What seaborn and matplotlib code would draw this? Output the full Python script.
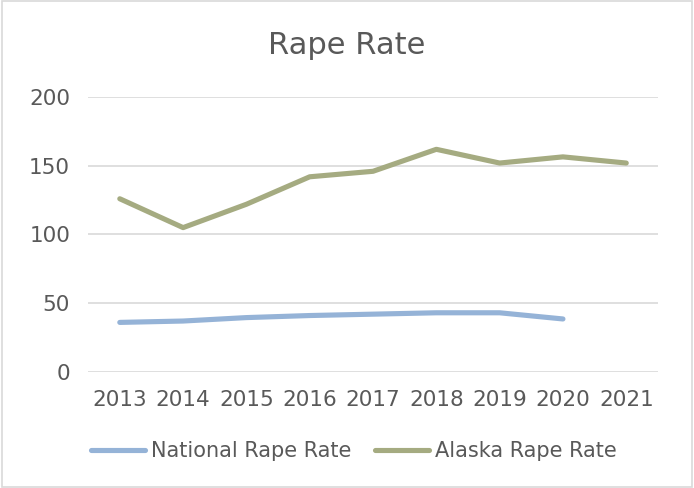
import numpy as np
import pandas as pd
import matplotlib
matplotlib.use("Agg")
import matplotlib.pyplot as plt
import seaborn as sns
from matplotlib.lines import Line2D

years = ["2013", "2014", "2015", "2016", "2017", "2018", "2019", "2020", "2021"]
national = [36, 37, 39.5, 41, 42, 43, 43, 38.5, np.nan]
alaska = [126, 105, 122, 142, 146, 162, 152, 156.5, 152]
series_names = ["National Rape Rate", "Alaska Rape Rate"]
colors = ["#95b3d7", "#a5ab81"]

sns.set_theme(style="white")
plt.rcParams["font.family"] = ["DejaVu Sans"]

df = pd.DataFrame({
    "Year": years * 2,
    "Value": national + alaska,
    "Series": [series_names[0]] * len(years) + [series_names[1]] * len(years),
})

fig = plt.figure(figsize=(6.94, 4.88), dpi=100)
ax = fig.add_axes([0.127, 0.238, 0.821, 0.563])
sns.lineplot(data=df, x="Year", y="Value", hue="Series", palette=colors,
             linewidth=3.7, ax=ax, legend=False, sort=False)
for l in ax.lines:
    l.set_solid_capstyle("round")
    l.set_solid_joinstyle("round")

ax.set_xlim(-0.5, 8.5)
ax.set_ylim(0, 200)
ax.set_yticks([0, 50, 100, 150, 200])
ax.yaxis.grid(True, color="#d9d9d9", linewidth=1.2)
ax.set_axisbelow(True)
for s in ax.spines.values():
    s.set_visible(False)
ax.set_xlabel("")
ax.set_ylabel("")
ax.tick_params(axis="both", length=0, labelsize=15.5, labelcolor="#595959")
ax.tick_params(axis="x", pad=13)
ax.tick_params(axis="y", pad=13)

fig.text(0.5, 0.907, "Rape Rate", ha="center", va="center", fontsize=22, color="#595959")

handles = [Line2D([0], [0], color=c, linewidth=3.7, solid_capstyle="round") for c in colors]
fig.legend(handles, series_names, loc="center", bbox_to_anchor=(0.51, 0.076), ncol=2,
           frameon=False, fontsize=15, labelcolor="#595959", handlelength=2.6,
           handletextpad=0.3, columnspacing=1.1)

border = plt.Rectangle((0.003, 0.003), 0.994, 0.994, transform=fig.transFigure,
                       fill=False, edgecolor="#d9d9d9", linewidth=1.2)
fig.patches.append(border)

fig.savefig("out.png", dpi=100, facecolor="white")
